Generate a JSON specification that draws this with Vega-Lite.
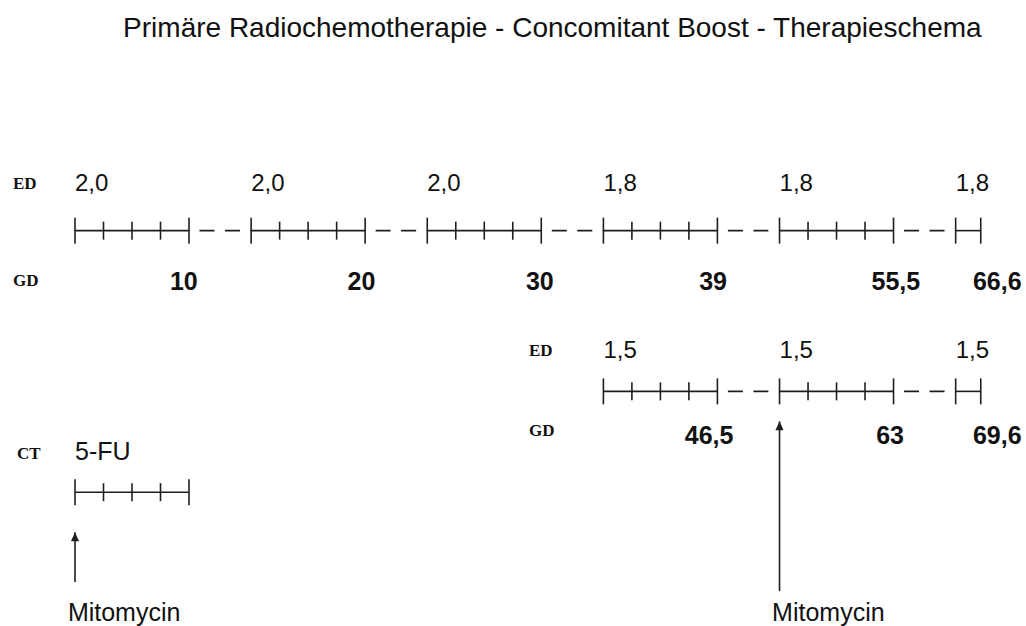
{
  "$schema": "https://vega.github.io/schema/vega-lite/v6.json",
  "width": 1026,
  "height": 626,
  "padding": 0,
  "autosize": {"type": "fit", "contains": "padding"},
  "background": "white",
  "config": {"view": {"stroke": null}},
  "datasets": {
    "segments": [
      {"lane": "top", "y": 231, "x": 0, "x2": 4},
      {"lane": "top", "y": 231, "x": 6.18, "x2": 10.18},
      {"lane": "top", "y": 231, "x": 12.36, "x2": 16.36},
      {"lane": "top", "y": 231, "x": 18.54, "x2": 22.54},
      {"lane": "top", "y": 231, "x": 24.72, "x2": 28.72},
      {"lane": "top", "y": 231, "x": 30.9, "x2": 31.78},
      {"lane": "boost", "y": 392, "x": 18.54, "x2": 22.54},
      {"lane": "boost", "y": 392, "x": 24.72, "x2": 28.72},
      {"lane": "boost", "y": 392, "x": 30.9, "x2": 31.78},
      {"lane": "ct", "y": 493, "x": 0, "x2": 4}
    ],
    "gaps": [
      {"lane": "top", "y": 231, "x": 4, "x2": 6.18},
      {"lane": "top", "y": 231, "x": 10.18, "x2": 12.36},
      {"lane": "top", "y": 231, "x": 16.36, "x2": 18.54},
      {"lane": "top", "y": 231, "x": 22.54, "x2": 24.72},
      {"lane": "top", "y": 231, "x": 28.72, "x2": 30.9},
      {"lane": "boost", "y": 392, "x": 22.54, "x2": 24.72},
      {"lane": "boost", "y": 392, "x": 28.72, "x2": 30.9}
    ],
    "ticks": [
      {"y": 231, "x": 0, "kind": "E"}, {"y": 231, "x": 1, "kind": "I"}, {"y": 231, "x": 2, "kind": "I"}, {"y": 231, "x": 3, "kind": "I"}, {"y": 231, "x": 4, "kind": "E"},
      {"y": 231, "x": 6.18, "kind": "E"}, {"y": 231, "x": 7.18, "kind": "I"}, {"y": 231, "x": 8.18, "kind": "I"}, {"y": 231, "x": 9.18, "kind": "I"}, {"y": 231, "x": 10.18, "kind": "E"},
      {"y": 231, "x": 12.36, "kind": "E"}, {"y": 231, "x": 13.36, "kind": "I"}, {"y": 231, "x": 14.36, "kind": "I"}, {"y": 231, "x": 15.36, "kind": "I"}, {"y": 231, "x": 16.36, "kind": "E"},
      {"y": 231, "x": 18.54, "kind": "E"}, {"y": 231, "x": 19.54, "kind": "I"}, {"y": 231, "x": 20.54, "kind": "I"}, {"y": 231, "x": 21.54, "kind": "I"}, {"y": 231, "x": 22.54, "kind": "E"},
      {"y": 231, "x": 24.72, "kind": "E"}, {"y": 231, "x": 25.72, "kind": "I"}, {"y": 231, "x": 26.72, "kind": "I"}, {"y": 231, "x": 27.72, "kind": "I"}, {"y": 231, "x": 28.72, "kind": "E"},
      {"y": 231, "x": 30.9, "kind": "E"}, {"y": 231, "x": 31.78, "kind": "E"},
      {"y": 392, "x": 18.54, "kind": "E"}, {"y": 392, "x": 19.54, "kind": "I"}, {"y": 392, "x": 20.54, "kind": "I"}, {"y": 392, "x": 21.54, "kind": "I"}, {"y": 392, "x": 22.54, "kind": "E"},
      {"y": 392, "x": 24.72, "kind": "E"}, {"y": 392, "x": 25.72, "kind": "I"}, {"y": 392, "x": 26.72, "kind": "I"}, {"y": 392, "x": 27.72, "kind": "I"}, {"y": 392, "x": 28.72, "kind": "E"},
      {"y": 392, "x": 30.9, "kind": "E"}, {"y": 392, "x": 31.78, "kind": "E"},
      {"y": 493, "x": 0, "kind": "E"}, {"y": 493, "x": 1, "kind": "I"}, {"y": 493, "x": 2, "kind": "I"}, {"y": 493, "x": 3, "kind": "I"}, {"y": 493, "x": 4, "kind": "E"}
    ],
    "arrows": [
      {"x": 0, "y": 583, "tip": 533},
      {"x": 24.72, "y": 592, "tip": 422}
    ],
    "labels": [
      {"role": "title", "text": "Primäre Radiochemotherapie - Concomitant Boost - Therapieschema", "x": 16.75, "y": 29},
      {"role": "row", "text": "ED", "x": -2.175, "y": 184},
      {"role": "row", "text": "GD", "x": -2.175, "y": 281},
      {"role": "row", "text": "ED", "x": 15.93, "y": 352},
      {"role": "row", "text": "GD", "x": 15.93, "y": 432},
      {"role": "row", "text": "CT", "x": -2.035, "y": 455},
      {"role": "dose", "text": "2,0", "x": 0, "y": 184},
      {"role": "dose", "text": "2,0", "x": 6.18, "y": 184},
      {"role": "dose", "text": "2,0", "x": 12.36, "y": 184},
      {"role": "dose", "text": "1,8", "x": 18.54, "y": 184},
      {"role": "dose", "text": "1,8", "x": 24.72, "y": 184},
      {"role": "dose", "text": "1,8", "x": 30.9, "y": 184},
      {"role": "dose", "text": "1,5", "x": 18.54, "y": 352},
      {"role": "dose", "text": "1,5", "x": 24.72, "y": 352},
      {"role": "dose", "text": "1,5", "x": 30.9, "y": 352},
      {"role": "drug", "text": "5-FU", "x": 0, "y": 453},
      {"role": "drug", "text": "Mitomycin", "x": -0.25, "y": 614},
      {"role": "drug", "text": "Mitomycin", "x": 24.46, "y": 614},
      {"role": "total", "text": "10", "x": 3.82, "y": 282},
      {"role": "total", "text": "20", "x": 10.05, "y": 282},
      {"role": "total", "text": "30", "x": 16.31, "y": 282},
      {"role": "total", "text": "39", "x": 22.39, "y": 282},
      {"role": "total", "text": "55,5", "x": 28.8, "y": 282},
      {"role": "total", "text": "66,6", "x": 32.36, "y": 282},
      {"role": "total", "text": "46,5", "x": 22.25, "y": 437},
      {"role": "total", "text": "63", "x": 28.6, "y": 437},
      {"role": "total", "text": "69,6", "x": 32.36, "y": 437}
    ]
  },
  "encoding": {
    "x": {"field": "x", "type": "quantitative", "scale": {"domain": [-2.6316, 33.368], "nice": false, "zero": false}, "axis": null},
    "y": {"field": "y", "type": "quantitative", "scale": {"domain": [0, 626], "reverse": true, "nice": false, "zero": false}, "axis": null}
  },
  "layer": [
    {
      "data": {"name": "segments"},
      "mark": {"type": "rule", "strokeWidth": 1.6, "color": "#1e1e1e"},
      "encoding": {"x2": {"field": "x2"}}
    },
    {
      "data": {"name": "gaps"},
      "mark": {"type": "rule", "strokeWidth": 1.6, "color": "#1e1e1e", "strokeDash": [15, 10.5], "strokeDashOffset": 15},
      "encoding": {"x2": {"field": "x2"}}
    },
    {
      "data": {"name": "ticks"},
      "transform": [{"filter": "datum.kind === 'E'"}],
      "mark": {"type": "tick", "orient": "vertical", "size": 26, "thickness": 1.6, "color": "#1e1e1e", "opacity": 1},
      "encoding": {}
    },
    {
      "data": {"name": "ticks"},
      "transform": [{"filter": "datum.kind === 'I'"}],
      "mark": {"type": "tick", "orient": "vertical", "size": 18, "thickness": 1.6, "color": "#1e1e1e", "opacity": 1},
      "encoding": {}
    },
    {
      "data": {"name": "arrows"},
      "mark": {"type": "rule", "strokeWidth": 1.6, "color": "#1e1e1e"},
      "encoding": {"y2": {"field": "tip"}}
    },
    {
      "data": {"name": "arrows"},
      "mark": {"type": "point", "shape": "M0,0L0.9,2L-0.9,2Z", "filled": true, "size": 81, "color": "#1e1e1e", "opacity": 1},
      "encoding": {
        "y": {"field": "tip", "type": "quantitative", "scale": {"domain": [0, 626], "reverse": true, "nice": false, "zero": false}, "axis": null}
      }
    },
    {
      "data": {"name": "labels"},
      "transform": [{"filter": "datum.role === 'title'"}],
      "mark": {"type": "text", "font": "Liberation Sans", "fontSize": 28, "align": "center", "baseline": "middle", "color": "#111"},
      "encoding": {"text": {"field": "text"}}
    },
    {
      "data": {"name": "labels"},
      "transform": [{"filter": "datum.role === 'row'"}],
      "mark": {"type": "text", "font": "Liberation Serif", "fontSize": 17, "fontWeight": "bold", "align": "left", "baseline": "middle", "color": "#111"},
      "encoding": {"text": {"field": "text"}}
    },
    {
      "data": {"name": "labels"},
      "transform": [{"filter": "datum.role === 'dose'"}],
      "mark": {"type": "text", "font": "Liberation Sans", "fontSize": 24, "align": "left", "baseline": "middle", "color": "#111"},
      "encoding": {"text": {"field": "text"}}
    },
    {
      "data": {"name": "labels"},
      "transform": [{"filter": "datum.role === 'drug'"}],
      "mark": {"type": "text", "font": "Liberation Sans", "fontSize": 25, "align": "left", "baseline": "middle", "color": "#111"},
      "encoding": {"text": {"field": "text"}}
    },
    {
      "data": {"name": "labels"},
      "transform": [{"filter": "datum.role === 'total'"}],
      "mark": {"type": "text", "font": "Liberation Sans", "fontSize": 25, "fontWeight": "bold", "align": "center", "baseline": "middle", "color": "#111"},
      "encoding": {"text": {"field": "text"}}
    }
  ]
}
